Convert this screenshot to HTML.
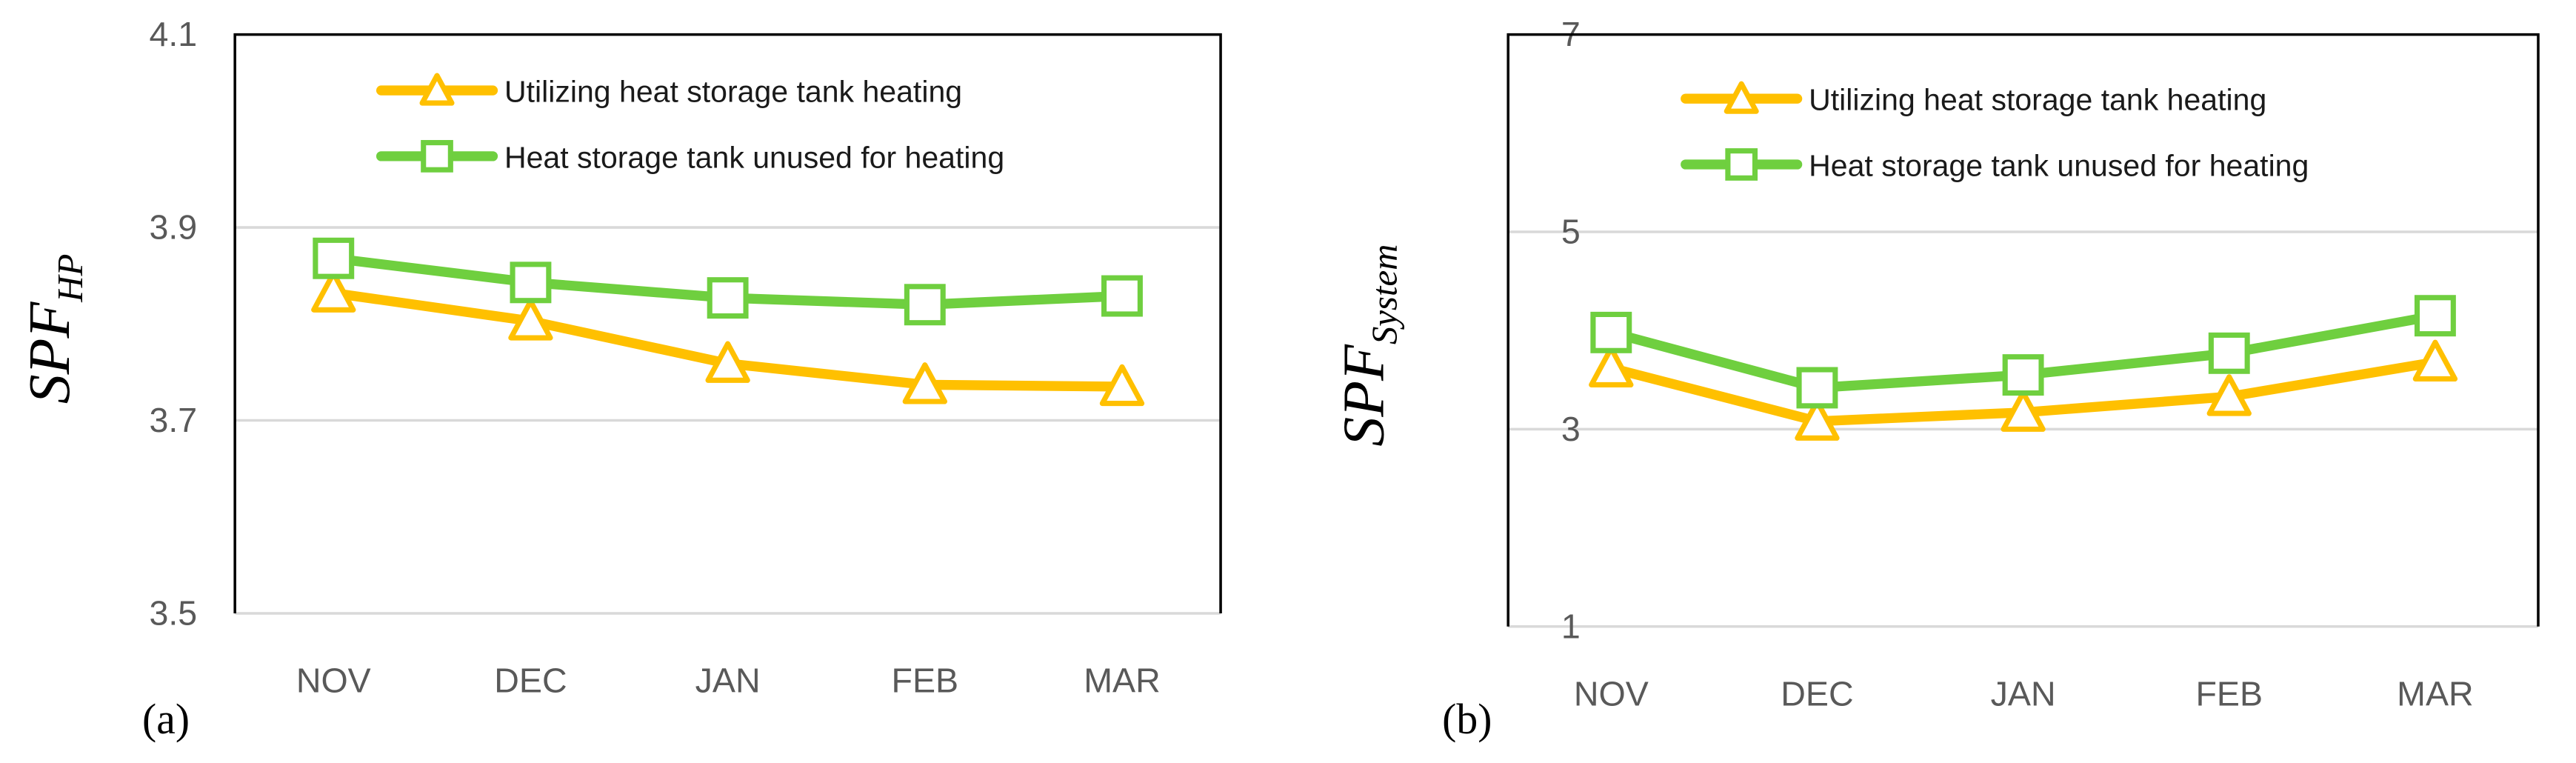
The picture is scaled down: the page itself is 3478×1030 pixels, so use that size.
<!DOCTYPE html>
<html><head><meta charset="utf-8"><style>
html,body{margin:0;padding:0;background:#fff}
svg{display:block}
text{font-family:"Liberation Sans",sans-serif}
</style></head><body>
<svg id="fig" width="3478" height="1030" viewBox="0 0 1568 464" preserveAspectRatio="none"></svg>
<script>
const months = ["NOV","DEC","JAN","FEB","MAR"];
const hpTicks = [3.5,3.7,3.9,4.1];
const hpUtil = [3.832,3.803,3.759,3.737,3.735];
const hpUnused = [3.868,3.843,3.827,3.820,3.829];
const sysTicks = [1,3,5,7];
const sysUtil = [3.62,3.08,3.17,3.33,3.68];
const sysUnused = [3.98,3.42,3.55,3.77,4.15];
const legendLabels = ["Utilizing heat storage tank heating","Heat storage tank unused for heating"];

const NS="http://www.w3.org/2000/svg";
const svg=document.getElementById('fig');
function mk(tag,attrs,parent){const e=document.createElementNS(NS,tag);for(const k in attrs)e.setAttribute(k,attrs[k]);(parent||svg).appendChild(e);return e;}

function chart(cfg){
  const g=mk('g',{});
  
  
  const {L,R,T,B,ymin,ymax}=cfg;
  const ys=v=>B-(v-ymin)/(ymax-ymin)*(B-T);
  const step=(R-L)/months.length;
  const xs=i=>L+step*(i+0.5);
  cfg.ticks.forEach(t=>{
    const y=ys(t);
    const l=mk('line',{x1:L,x2:R,y1:y,y2:y,stroke:'#d9d9d9','stroke-width':1.6},g);
    
    
    const tx=mk('text',{x:cfg.tickX,y:y+7,'text-anchor':'end','font-size':21,fill:'#595959'},g);
    
    
    tx.textContent=cfg.tickFmt(t);
  });
  const box=mk('path',{d:`M${L},${B} L${L},${T} L${R},${T} L${R},${B}`,fill:'none',stroke:'#000','stroke-width':1.6},g);
  
  
  months.forEach((m,i)=>{
    const t=mk('text',{x:xs(i),y:cfg.xLabY,'text-anchor':'middle','font-size':21,fill:'#595959'},g);
    
    
    t.textContent=m;
  });
  function series(vals,color,marker,nm){
    const pts=vals.map((v,i)=>[xs(i),ys(v)]);
    const pl=mk('polyline',{points:pts.map(p=>p.join(',')).join(' '),fill:'none',stroke:color,'stroke-width':6,'stroke-linejoin':'round'},g);
    
    
    pts.forEach(p=>drawMarker(p[0],p[1],color,marker,nm,g));
  }
  series(cfg.util,'#ffc000','tri','util-series');
  series(cfg.unused,'#6fcf3f','sq','unused-series');
  [['#ffc000','tri'],['#6fcf3f','sq']].forEach((s,k)=>{
    const y=cfg.legY+k*40;
    const ln=mk('line',{x1:cfg.legX,x2:cfg.legX+68,y1:y,y2:y,stroke:s[0],'stroke-width':6,'stroke-linecap':'round'},g);
    
    
    drawMarker(cfg.legX+34,y,s[0],s[1],'legend',g,0.75);
    const t=mk('text',{x:cfg.legX+75,y:y+7,'font-size':18.5,fill:'#1a1a1a'},g);
    
    
    t.textContent=legendLabels[k];
  });
  const yt=mk('text',{transform:`translate(${cfg.titleX},${cfg.titleY}) rotate(-90)`,'text-anchor':'middle','font-size':36,'font-style':'italic',style:'font-family:"Liberation Serif",serif'},g);
  
  
  yt.innerHTML=cfg.title;
  const pl=mk('text',{x:cfg.panX,y:cfg.panY,'text-anchor':'middle','font-size':26,style:'font-family:"Liberation Serif",serif'},g);
  
  
  pl.textContent=cfg.panel;
}
function drawMarker(x,y,color,type,nm,g,s){
  s=s||1;let e;
  if(type==='sq'){const h=11*s;e=mk('rect',{x:x-h,y:y-h,width:2*h,height:2*h,fill:'#fff',stroke:color,'stroke-width':3.2},g);}
  else{const h=12*s;e=mk('polygon',{points:`${x},${y-h} ${x+h},${y+h*0.85} ${x-h},${y+h*0.85}`,fill:'#fff',stroke:color,'stroke-width':3.2,'stroke-linejoin':'round'},g);}
  
  
}
chart({name:'chart-a-spf-hp',L:143,R:743,T:21,B:373,ymin:3.5,ymax:4.1,ticks:hpTicks,tickFmt:t=>t.toFixed(1),tickX:120,xLabY:421,
  util:hpUtil,unused:hpUnused,legX:232,legY:55,title:'SPF<tspan font-size="22" dy="8">HP</tspan>',titleX:42,titleY:200,panel:'(a)',panX:101,panY:446});
chart({name:'chart-b-spf-system',L:918,R:1545,T:21,B:381,ymin:1,ymax:7,ticks:sysTicks,tickFmt:t=>String(t),tickX:962,xLabY:429,
  util:sysUtil,unused:sysUnused,legX:1026,legY:60,title:'SPF<tspan font-size="22" dy="8">System</tspan>',titleX:842,titleY:210,panel:'(b)',panX:893,panY:446});
</script>
</body></html>
